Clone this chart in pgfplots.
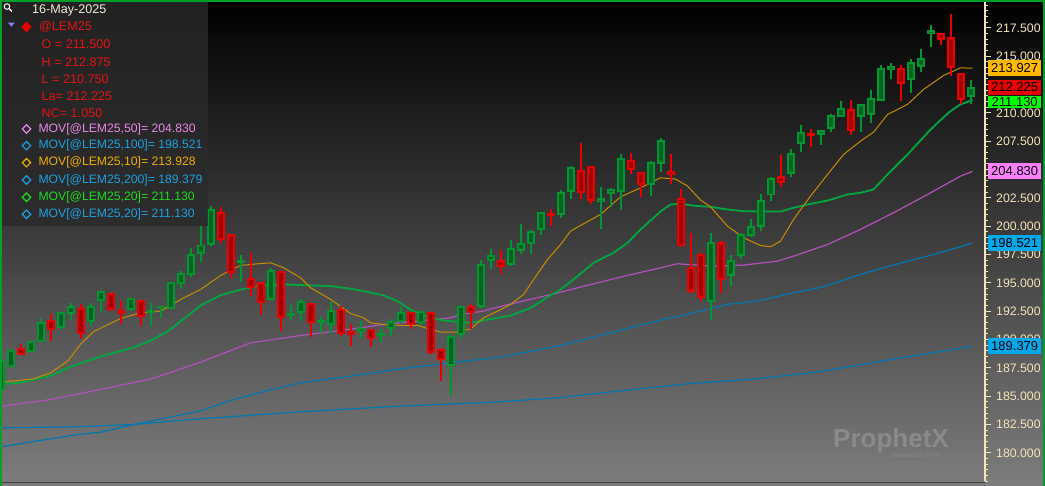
\documentclass[border=0pt]{standalone}
\usepackage{fontspec}
\setmainfont{Liberation Sans}
\usepackage{pgfplots}
\pgfplotsset{compat=1.18}
\usepackage{pgfplotstable}

\definecolor{gbr}{RGB}{0,150,48}
\definecolor{gdk}{RGB}{0,98,32}
\definecolor{rbr}{RGB}{235,0,0}
\definecolor{rdk}{RGB}{160,0,0}
\definecolor{maten}{RGB}{200,140,0}
\definecolor{matwg}{RGB}{0,175,35}
\definecolor{matwb}{RGB}{0,125,210}
\definecolor{mafif}{RGB}{180,80,190}
\definecolor{mahun}{RGB}{0,120,180}
\definecolor{cream}{RGB}{245,228,185}
\definecolor{bord}{RGB}{0,160,40}
\definecolor{legred}{RGB}{225,20,20}
\definecolor{legpink}{RGB}{232,135,232}
\definecolor{legblue}{RGB}{30,160,225}
\definecolor{legorange}{RGB}{240,175,0}
\definecolor{leggreen}{RGB}{30,220,30}
\definecolor{legdate}{RGB}{242,236,216}
\definecolor{legtri}{RGB}{130,130,255}
\definecolor{panel}{RGB}{42,42,42}
\definecolor{wmark}{RGB}{138,138,138}
\definecolor{wmarks}{RGB}{136,136,136}
\definecolor{bgbot}{RGB}{125,125,125}
\definecolor{boxorange}{RGB}{255,185,0}
\definecolor{boxred}{RGB}{228,0,0}
\definecolor{boxgreen}{RGB}{0,255,0}
\definecolor{boxpink}{RGB}{255,128,255}
\definecolor{boxblue}{RGB}{0,168,236}

\pgfplotstableread{
i o h l c
0 185.6 188.4 185.3 188.1
1 187.65 189.15 187.5 188.97
3 188.97 189.85 188.88 189.76
4 189.85 191.91 189.79 191.47
6 191.12 192.41 190.94 192.35
7 192.35 193.24 191.71 192.88
9 191.62 193.24 191.23 192.88
10 193.44 194.26 192.35 194.21
13 192.65 193.68 192.5 193.59
15 192.41 193.24 191.18 192.53
16 192.82 192.97 191.91 192.9
17 192.79 195.06 192.71 195.0
18 194.94 196.03 194.41 195.74
19 195.74 198.09 195.53 197.44
20 197.59 200.0 196.82 198.29
21 198.38 201.76 198.24 201.41
24 196.82 197.41 195.06 196.94
27 193.59 196.32 193.47 196.03
29 192.18 193.0 191.71 192.29
30 192.41 193.59 191.62 193.29
32 191.53 192.0 190.59 191.62
33 191.38 193.29 190.53 192.5
36 190.74 191.62 190.15 190.94
38 190.38 190.88 189.76 190.5
39 191.03 191.82 190.29 191.53
40 191.62 192.88 191.41 192.35
42 191.53 192.5 191.18 192.41
45 187.71 190.44 185.0 190.24
46 190.44 192.94 190.06 192.88
48 192.94 196.97 192.79 196.53
49 196.97 197.97 196.26 197.35
51 196.62 198.74 196.47 198.0
52 197.85 200.15 197.5 198.44
53 198.47 199.62 197.56 199.47
54 199.76 201.24 199.26 201.12
56 201.09 203.15 200.74 202.94
57 203.09 205.29 202.41 205.15
60 202.2 203.47 199.71 202.41
61 202.88 203.38 201.71 203.15
62 203.09 206.32 201.41 205.94
65 203.76 205.73 202.65 205.59
66 205.53 207.79 204.76 207.5
71 193.38 199.41 191.76 198.53
73 195.65 197.41 194.71 196.91
74 197.41 199.41 197.06 199.26
75 199.18 200.59 199.06 199.91
76 200.0 202.85 199.56 202.26
77 202.79 204.35 202.21 204.18
79 204.71 206.82 204.32 206.38
80 207.35 208.88 206.53 208.24
82 208.09 208.44 207.15 208.38
83 208.68 209.85 208.29 209.76
84 209.71 211.03 209.62 210.35
86 209.71 210.7 208.29 210.65
87 209.91 211.97 209.06 211.24
88 211.12 214.18 211.03 213.82
89 213.82 214.35 212.94 214.0
91 213.0 214.71 211.71 214.35
92 214.12 215.65 213.59 214.76
93 217.0 217.79 215.79 217.21
97 211.5 212.875 210.75 212.225
}\greentab

\pgfplotstableread{
i o h l c
2 189.12 189.56 188.62 188.76
5 191.62 192.29 189.85 190.88
8 192.65 193.15 190.0 190.59
11 193.97 194.03 192.5 192.71
12 192.5 193.38 191.32 192.35
14 193.38 193.44 191.18 192.06
22 201.12 201.7 198.53 198.88
23 199.18 199.26 195.44 195.94
25 195.35 197.65 193.82 194.65
26 194.94 195.06 192.12 193.29
28 195.94 196.03 190.74 192.0
31 193.15 193.24 190.24 191.56
34 192.59 192.94 190.29 190.59
35 190.68 191.32 189.41 190.5
37 190.82 190.88 189.32 190.15
41 192.35 192.41 190.88 191.38
43 192.35 192.41 188.68 188.88
44 189.06 189.26 186.32 188.24
47 192.85 193.09 190.94 192.41
50 196.91 197.85 195.74 196.47
55 201.09 201.53 200.0 200.97
58 204.85 207.35 202.35 203.0
59 205.21 205.29 201.91 202.29
63 205.73 206.41 204.56 205.0
64 204.65 204.71 202.59 203.76
67 204.79 206.32 203.68 204.56
68 202.35 203.24 198.18 198.29
69 196.32 199.41 194.06 194.3
70 197.41 197.65 193.38 193.76
72 198.53 198.68 194.12 195.35
78 204.32 206.24 203.47 203.88
81 208.15 208.53 206.97 208.03
85 210.29 211.09 208.0 208.47
90 213.88 214.18 211.03 212.65
94 216.97 217.06 215.97 216.47
95 216.62 218.68 213.24 214.03
96 213.4 213.5 210.8 211.2
}\redtab

\begin{document}
\begin{tikzpicture}[x=1pt,y=1pt]
\useasboundingbox (0,0) rectangle (1045,486);
\shade[top color=black, bottom color=bgbot] (0,0) rectangle (1045,486);
\begin{axis}[
  at={(0,4)}, anchor=south west,
  scale only axis, width=985pt, height=482pt,
  xmin=-0.07, xmax=98.45, ymin=177.47, ymax=220.0,
  axis x line=none, axis y line*=right,
  y axis line style={-, cream, line width=1.3pt},
  tick align=outside,
  major tick length=6pt, minor tick length=3pt,
  major tick style={cream, line width=1.2pt},
  minor tick style={cream, line width=1pt},
  ytick={180,182.5,...,217.5},
  yticklabels={180.000,182.500,185.000,187.500,190.000,192.500,195.000,197.500,200.000,202.500,,207.500,210.000,,215.000,217.500},
  minor ytick={177.5,178,...,220},
  yticklabel style={text=cream, font=\fontsize{12.3}{14}\selectfont, anchor=west, inner sep=0pt, xshift=5pt},
  candle/.style={only marks, mark size=0pt, mark options={draw opacity=0, fill opacity=0},
    error bars/y dir=plus, error bars/y explicit, error bars/error mark=none},
]
% moving averages
\addplot[mahun, line width=1.2pt, line join=round] coordinates {
(0,180.53) (5,181.23) (7.7,181.61) (10,181.82) (13.3,182.5) (15,182.79) (20,183.7) (23.3,184.7) (26.7,185.5) (30,186.18) (35,186.76) (40,187.41) (45,187.94) (50,188.45) (55.7,189.41) (62.3,190.88) (66,191.71) (69,192.29) (72.7,193.09) (75.7,193.4) (79.3,194.12) (82.3,194.65) (86,195.74) (89,196.5) (92.7,197.35) (96,198.18) (97.2,198.52)};
\addplot[mahun, line width=1.2pt, line join=round] coordinates {
(0,182.2) (7.7,182.3) (13.3,182.5) (20,183.0) (30,183.62) (40,184.12) (49,184.45) (55.7,184.85) (62.3,185.5) (69,186.12) (75.7,186.53) (82.3,187.2) (89,188.23) (97.2,189.38)};
\addplot[mafif, line width=1.2pt, line join=round] coordinates {
(0,184.1) (5,184.7) (10,185.59) (13.3,186.2) (15,186.5) (20,188.0) (25,189.7) (30,190.35) (35,190.9) (38.3,191.32) (41.7,191.62) (45,191.91) (46,192.2) (48.3,192.5) (49,192.7) (52.3,193.4) (55.7,194.1) (59,194.85) (62.7,195.65) (66,196.32) (67.7,196.68) (71,196.47) (74.3,196.56) (77.7,196.91) (79.3,197.35) (82.7,198.38) (86,199.71) (89.3,201.18) (92.7,202.79) (96,204.41) (97.2,204.83)};
\addplot[matwg, line width=1.8pt, line join=round] coordinates {
(0,186.05) (2,186.2) (5,186.8) (7,187.6) (10,188.5) (13.3,189.3) (15,189.9) (16.7,190.7) (18,191.6) (20,193.0) (22,193.9) (24,194.4) (26,194.75) (28.3,194.85) (33,194.71) (35,194.47) (36.3,194.26) (38.3,193.88) (39.7,193.38) (40.7,192.79) (41.7,192.35) (43,191.91) (44.3,191.68) (45.7,191.56) (47,191.47) (48.3,191.68) (49.7,191.91) (51,192.1) (53,192.79) (55,193.9) (56,194.41) (57.3,195.3) (59.3,196.76) (61.3,197.65) (62.7,198.53) (64,199.7) (65.3,200.73) (66,201.3) (67,201.91) (68,201.97) (69.3,201.8) (71,201.7) (72.7,201.47) (74.3,201.32) (76,201.29) (78,201.29) (79.3,201.62) (80.7,201.91) (82.7,202.26) (84.7,202.79) (86,202.94) (87.3,203.24) (88.7,204.56) (90.7,206.32) (92.7,208.24) (93.7,209.12) (95,210.15) (96,210.74) (97.2,211.13)};
\addplot[matwb, line width=1pt, dash pattern=on 1pt off 3pt] coordinates {
(0,186.05) (2,186.2) (5,186.8) (7,187.6) (10,188.5) (13.3,189.3) (15,189.9) (16.7,190.7) (18,191.6) (20,193.0) (22,193.9) (24,194.4) (26,194.75) (28.3,194.85) (33,194.71) (35,194.47) (36.3,194.26) (38.3,193.88) (39.7,193.38) (40.7,192.79) (41.7,192.35) (43,191.91) (44.3,191.68) (45.7,191.56) (47,191.47) (48.3,191.68) (49.7,191.91) (51,192.1) (53,192.79) (55,193.9) (56,194.41) (57.3,195.3) (59.3,196.76) (61.3,197.65) (62.7,198.53) (64,199.7) (65.3,200.73) (66,201.3) (67,201.91) (68,201.97) (69.3,201.8) (71,201.7) (72.7,201.47) (74.3,201.32) (76,201.29) (78,201.29) (79.3,201.62) (80.7,201.91) (82.7,202.26) (84.7,202.79) (86,202.94) (87.3,203.24) (88.7,204.56) (90.7,206.32) (92.7,208.24) (93.7,209.12) (95,210.15) (96,210.74) (97.2,211.13)};
\addplot[maten, line width=1pt, line join=round] coordinates {
(0,186.24) (2,186.4) (3.3,186.53) (5,187.06) (6.7,188.09) (8,189.6) (9.3,190.7) (10,191.0) (12,191.85) (14,192.35) (16,192.5) (18,193.53) (20,194.41) (22,195.65) (24,196.53) (26,196.7) (27,196.76) (28.3,196.32) (30,195.44) (31,194.56) (33,193.53) (35,192.29) (36.3,191.91) (37,191.47) (38.3,191.32) (40,191.24) (41.7,191.24) (43,190.88) (44,190.65) (45.7,190.65) (47,190.94) (48.3,191.91) (49.7,192.5) (51,193.1) (52.3,193.97) (53.3,195.29) (54.7,197.06) (56,198.38) (57,199.56) (58,200.06) (60,201.03) (62,202.59) (64,203.38) (66,204.26) (67.5,204.15) (68.7,203.53) (70,202.3) (71,201.7) (72.7,200.0) (74.3,198.97) (76,198.29) (77,198.18) (78,198.68) (79.3,200.59) (81,202.65) (82.7,204.56) (84.3,206.32) (86,207.5) (87.3,208.29) (88.7,209.85) (90.7,210.74) (92.3,212.06) (94.3,213.29) (96,213.97) (97.2,213.93)};
% candles: green
\addplot[candle, error bars/error bar style={line width=2pt, gbr}]
  table[x=i, y=l, y error expr=\thisrow{h}-\thisrow{l}] {\greentab};
\addplot[candle, error bars/error bar style={line width=8pt, gbr}]
  table[x=i, y expr=\thisrow{o}-0.088, y error expr=\thisrow{c}-\thisrow{o}+0.176] {\greentab};
\addplot[candle, error bars/error bar style={line width=4pt, gdk}]
  table[x=i, y expr=\thisrow{o}+0.088, y error expr={max(\thisrow{c}-\thisrow{o}-0.176,0)}] {\greentab};
% candles: red
\addplot[candle, error bars/error bar style={line width=2pt, rbr}]
  table[x=i, y=l, y error expr=\thisrow{h}-\thisrow{l}] {\redtab};
\addplot[candle, error bars/error bar style={line width=8pt, rbr}]
  table[x=i, y expr=\thisrow{c}-0.088, y error expr=\thisrow{o}-\thisrow{c}+0.176] {\redtab};
\addplot[candle, error bars/error bar style={line width=4pt, rdk}]
  table[x=i, y expr=\thisrow{c}+0.088, y error expr={max(\thisrow{o}-\thisrow{c}-0.176,0)}] {\redtab};
\coordinate (v10) at (axis cs:98.45,213.927);
\coordinate (vla) at (axis cs:98.45,212.225);
\coordinate (v20) at (axis cs:98.45,211.130);
\coordinate (v50) at (axis cs:98.45,204.830);
\coordinate (v100) at (axis cs:98.45,198.521);
\coordinate (v200) at (axis cs:98.45,189.379);
\end{axis}
% value boxes
\tikzset{vbox/.style={anchor=west, inner sep=0pt, minimum width=53pt, minimum height=16pt, text=black, font=\fontsize{13}{15}\selectfont}}
\node[vbox, fill=boxorange] at ([xshift=3pt]v10) {213.927};
\node[vbox, fill=boxred, minimum height=15.6pt] at ([xshift=3pt,yshift=0.2pt]vla) {212.225};
\node[vbox, fill=boxgreen, minimum height=12pt] at ([xshift=3pt,yshift=-1.7pt]v20) {211.130};
\node[vbox, fill=boxpink] at ([xshift=3pt]v50) {204.830};
\node[vbox, fill=boxblue] at ([xshift=3pt]v100) {198.521};
\node[vbox, fill=boxblue] at ([xshift=3pt]v200) {189.379};
% legend panel
\fill[panel, fill opacity=0.82] (2,260) rectangle (208,486);
\draw[white, line width=1pt] (7,479.5) circle (2.8);
\draw[white, line width=1.3pt] (9,477.5) -- (12,474.5);
\fill[legtri] (8,463.3) -- (14.7,463.3) -- (11.35,459.3) -- cycle;
\fill[rbr] (26.5,464.5) -- (31.5,459) -- (26.5,453.5) -- (21.5,459) -- cycle;
\tikzset{lt/.style={anchor=west, inner sep=0pt, font=\fontsize{12.6}{15}\selectfont}}
\tikzset{mt/.style={anchor=west, inner sep=0pt, font=\fontsize{12.2}{15}\selectfont}}
\node[lt, text=legdate] at (32,476) {16-May-2025};
\node[lt, text=legred] at (39,459) {@LEM25};
\node[lt, text=legred] at (41.5,442) {O = 211.500};
\node[lt, text=legred] at (41.5,424.3) {H = 212.875};
\node[lt, text=legred] at (41.5,407.3) {L = 210.750};
\node[lt, text=legred] at (41.5,390.3) {La= 212.225};
\node[lt, text=legred] at (41.5,373.3) {NC= 1.050};
\foreach \yy/\cc/\tt in {357/legpink/{MOV[@LEM25,50]= 204.830}, 340.3/legblue/{MOV[@LEM25,100]= 198.521}, 323.3/legorange/{MOV[@LEM25,10]= 213.928}, 306/legblue/{MOV[@LEM25,200]= 189.379}, 288.7/leggreen/{MOV[@LEM25,20]= 211.130}, 271.7/legblue/{MOV[@LEM25,20]= 211.130}}{
  \draw[\cc, line width=1.2pt] (26.5,\yy+4.2) -- (30.7,\yy) -- (26.5,\yy-4.2) -- (22.3,\yy) -- cycle;
  \node[mt, text=\cc] at (38.3,\yy) {\tt};
}
% watermark
\node[anchor=west, inner sep=0pt, text=wmark, font=\bfseries\fontsize{26}{28}\selectfont] at (833,45) {ProphetX};
\node[anchor=west, inner sep=0pt, text=wmarks, font=\fontsize{6.5}{8}\selectfont] at (891,30) {powered by DTN};
% frame
\fill[black!75] (2,2.7) rectangle (985,4.3);
\fill[bord] (0,0) rectangle (2,486);
\fill[bord] (0,484.3) rectangle (1045,486);
\fill[bord] (1043,0) rectangle (1045,486);
\end{tikzpicture}
\end{document}
